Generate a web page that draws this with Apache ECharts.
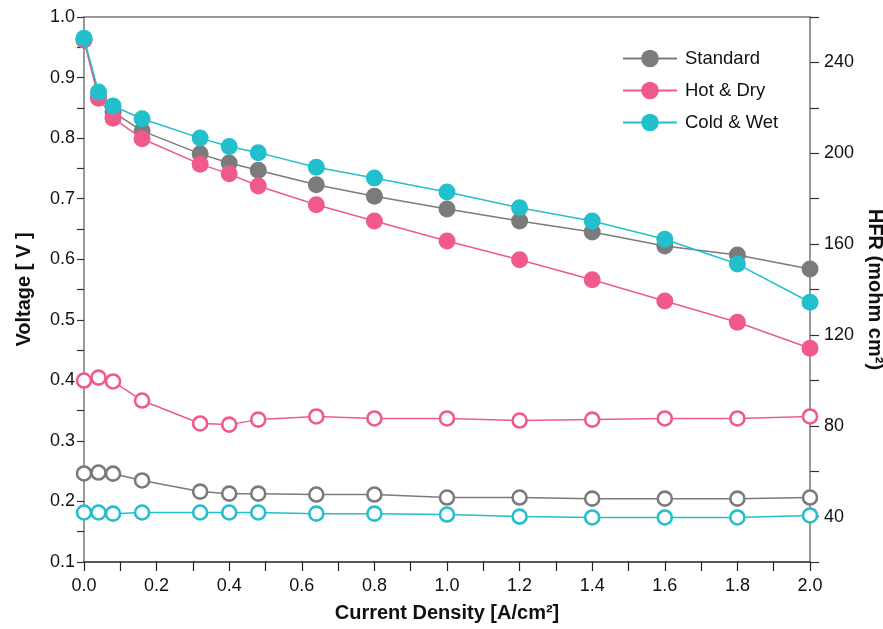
<!DOCTYPE html>
<html>
<head>
<meta charset="utf-8">
<script src="https://cdn.jsdelivr.net/npm/echarts@6/dist/echarts.min.js"></script>
<style>
  html, body { margin: 0; padding: 0; background: #fff; }
  #chart { width: 883px; height: 629px; }
</style>
</head>
<body>
<div id="chart"></div>
<script>
// current density points [A/cm2]
const currentDensity = [0, 0.04, 0.08, 0.16, 0.32, 0.4, 0.48, 0.64, 0.8, 1.0, 1.2, 1.4, 1.6, 1.8, 2.0];

// voltage [V]
const voltStandard = [0.962, 0.870, 0.843, 0.812, 0.774, 0.759, 0.747, 0.723, 0.704, 0.683, 0.663, 0.645, 0.622, 0.607, 0.584];
const voltHotDry   = [0.962, 0.866, 0.833, 0.799, 0.757, 0.741, 0.721, 0.690, 0.663, 0.630, 0.599, 0.566, 0.531, 0.496, 0.453];
const voltColdWet  = [0.965, 0.876, 0.853, 0.832, 0.800, 0.786, 0.776, 0.752, 0.734, 0.711, 0.685, 0.663, 0.633, 0.592, 0.529];

// HFR [mohm cm2]
const hfrStandard = [59.0, 59.4, 58.9, 55.9, 51.0, 50.1, 50.1, 49.7, 49.7, 48.4, 48.4, 47.9, 47.9, 47.9, 48.4];
const hfrHotDry   = [99.9, 101.2, 99.5, 91.1, 81.0, 80.5, 82.7, 84.1, 83.2, 83.2, 82.3, 82.7, 83.2, 83.2, 84.1];
const hfrColdWet  = [41.8, 41.8, 41.3, 41.8, 41.8, 41.8, 41.8, 41.3, 41.3, 40.9, 40.0, 39.6, 39.6, 39.6, 40.5];

const names = ['Standard', 'Hot & Dry', 'Cold & Wet'];
const colors = ['#7b7b7b', '#ef5a8b', '#22bfcc'];

const font = "'Liberation Sans', Arial, sans-serif";

const pairs = vals => currentDensity.map((x, i) => [x, vals[i]]);

const voltSeries = [voltStandard, voltHotDry, voltColdWet].map((vals, i) => ({
  name: names[i],
  type: 'line',
  yAxisIndex: 0,
  data: pairs(vals),
  symbol: 'circle',
  symbolSize: 17,
  lineStyle: { color: colors[i], width: 1.5 },
  itemStyle: { color: colors[i] },
  z: 3 + i
}));

const hfrSeries = [hfrStandard, hfrHotDry, hfrColdWet].map((vals, i) => ({
  name: names[i] + ' HFR',
  type: 'line',
  yAxisIndex: 1,
  data: pairs(vals),
  symbol: 'circle',
  symbolSize: 14,
  showSymbol: true,
  lineStyle: { color: colors[i], width: 1.5 },
  itemStyle: { color: '#fff', borderColor: colors[i], borderWidth: 2.6 },
  z: 3 + i
}));

const chart = echarts.init(document.getElementById('chart'));

const option = {
  animation: false,
  grid: { left: 84, right: 73, top: 17, bottom: 67, outerBoundsMode: 'none' },
  legend: {
    data: names,
    orient: 'vertical',
    left: 617,
    top: 44,
    itemWidth: 54,
    itemHeight: 22,
    itemGap: 13,
    textStyle: { fontFamily: font, fontSize: 18.5, color: '#111', padding: [0, 0, 0, 3] }
  },
  xAxis: [
    {
      type: 'value',
      min: 0,
      max: 2,
      interval: 0.1,
      name: 'Current Density [A/cm²]',
      nameLocation: 'middle',
      nameGap: 41,
      nameTextStyle: { fontFamily: font, fontWeight: 'bold', fontSize: 20, color: '#111' },
      axisLine: { onZero: false, lineStyle: { color: '#222', width: 1.5 } },
      axisTick: { length: 9, lineStyle: { color: '#222', width: 1.2 } },
      axisLabel: {
        margin: 15,
        fontFamily: font,
        fontSize: 18,
        color: '#111',
        formatter: v => (Math.round(v * 10) % 2 === 0 ? v.toFixed(1) : '')
      },
      splitLine: { show: false }
    },
    {
      type: 'value',
      position: 'top',
      min: 0,
      max: 2,
      axisLine: { show: true, onZero: false, lineStyle: { color: '#777', width: 1.5 } },
      axisTick: { show: false },
      axisLabel: { show: false },
      splitLine: { show: false }
    }
  ],
  yAxis: [
    {
      type: 'value',
      min: 0.1,
      max: 1.0,
      interval: 0.05,
      name: 'Voltage [ V ]',
      nameLocation: 'middle',
      nameRotate: 90,
      nameGap: 50,
      nameTextStyle: { fontFamily: font, fontWeight: 'bold', fontSize: 20, color: '#111' },
      axisLine: { show: true, onZero: false, lineStyle: { color: '#777', width: 1.5 } },
      axisTick: { length: 7, lineStyle: { color: '#333', width: 1.2 } },
      axisLabel: {
        margin: 9,
        fontFamily: font,
        fontSize: 18,
        color: '#111',
        formatter: v => (Math.round(v * 100) % 10 === 0 ? v.toFixed(1) : '')
      },
      splitLine: { show: false }
    },
    {
      type: 'value',
      min: 20,
      max: 260,
      interval: 20,
      position: 'right',
      name: 'HFR (mohm cm²)',
      nameLocation: 'middle',
      nameRotate: -90,
      nameGap: 47,
      nameTextStyle: { fontFamily: font, fontWeight: 'bold', fontSize: 20, color: '#111' },
      axisLine: { show: true, onZero: false, lineStyle: { color: '#777', width: 1.5 } },
      axisTick: { length: 9, lineStyle: { color: '#333', width: 1.2 } },
      axisLabel: {
        margin: 14,
        fontFamily: font,
        fontSize: 18,
        color: '#111',
        formatter: v => (v % 40 === 0 ? String(v) : '')
      },
      splitLine: { show: false }
    }
  ],
  series: hfrSeries.concat(voltSeries)
};

chart.setOption(option);
</script>
</body>
</html>
